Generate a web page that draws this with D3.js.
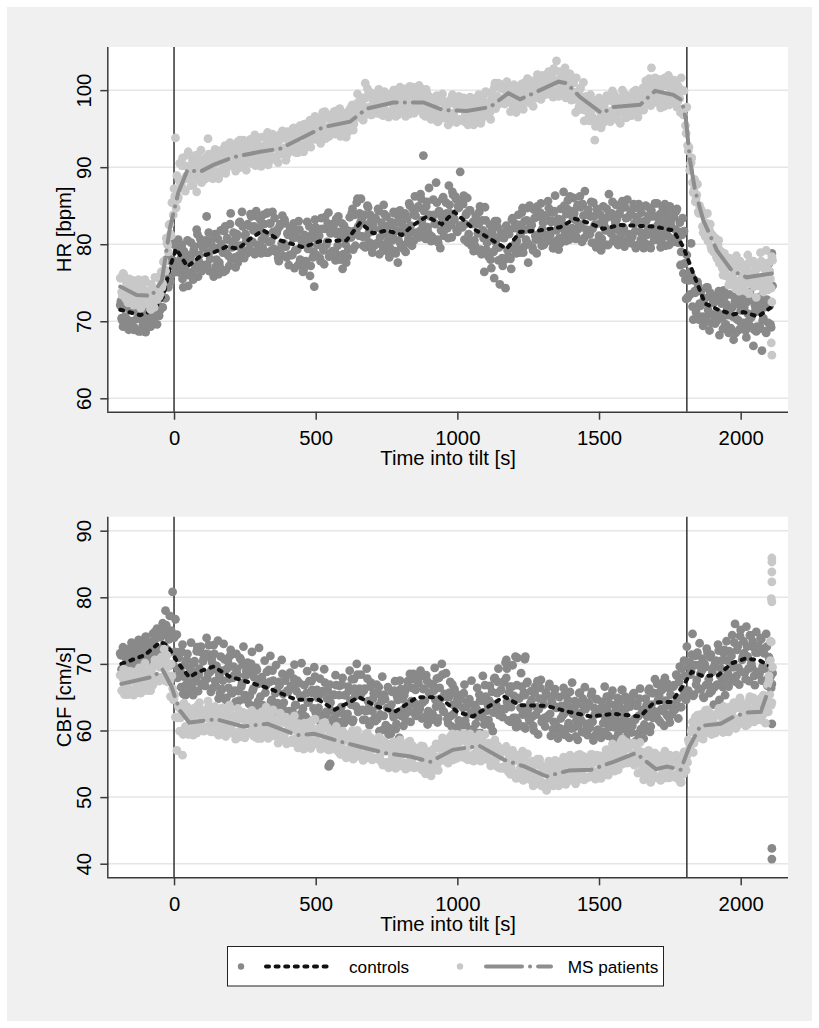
<!DOCTYPE html>
<html><head><meta charset="utf-8">
<script src="https://cdn.jsdelivr.net/npm/d3@7"></script>
<style>
html,body{margin:0;padding:0;background:#fff;}
svg text{font-family:"Liberation Sans",Arial,Helvetica,sans-serif;fill:#000;}
</style></head>
<body>
<svg id="chart" width="819" height="1028"></svg>
<script>
// ---------------- DATA ----------------
const sampleStart = -190;   // s, first sample time (set A)
const sampleStep = 5;       // s between samples
const sampleStartB = -187.5; // s, first sample time (set B, interleaved)
const tiltMarks = [0, 1810];
const xTicks = [0, 500, 1000, 1500, 2000];
const hrTicks = [60, 70, 80, 90, 100];
const cbfTicks = [40, 50, 60, 70, 80, 90];
const seriesNames = ["controls", "MS patients"];

const hrControls = [
72.1,70.4,69.3,71.8,73.0,70.2,68.9,71.5,72.6,70.0,
69.1,71.9,70.3,68.7,72.4,70.8,69.5,71.2,68.6,70.6,
71.7,69.8,72.5,70.4,71.0,73.1,69.6,72.0,71.4,73.6,
71.8,74.9,73.0,76.2,74.4,78.1,76.0,80.2,77.8,79.9,
77.4,80.6,76.3,78.2,75.5,79.1,76.8,77.9,74.6,78.5,
80.2,76.4,79.3,77.1,81.9,75.8,78.6,80.0,76.9,79.7,
77.3,83.6,78.9,76.5,80.4,79.2,75.8,81.3,78.0,80.7,
77.6,81.8,79.5,76.4,82.3,78.8,80.6,77.2,84.0,79.6,
81.5,78.3,80.9,77.6,82.8,79.8,84.2,78.6,81.1,80.4,
82.6,79.4,83.9,80.2,81.8,78.7,84.3,82.0,79.9,83.1,
80.6,83.8,81.2,78.9,84.1,80.3,82.7,79.2,81.6,83.4,
79.0,81.9,77.8,82.6,80.1,78.5,83.2,79.7,81.4,77.3,
82.1,78.6,80.8,76.9,81.7,79.3,83.0,78.0,80.5,76.4,
81.2,77.8,82.9,79.5,75.9,80.8,78.3,74.5,82.2,79.9,
81.9,78.2,83.4,79.6,77.4,82.0,80.3,84.1,78.8,81.5,
79.1,82.7,77.9,81.3,83.6,78.5,80.9,76.8,82.4,80.0,
81.8,79.4,83.5,80.9,84.6,81.7,79.8,85.4,82.3,84.0,
85.9,81.0,83.7,79.6,82.5,84.8,80.2,83.0,78.9,81.9,
83.4,80.1,84.6,78.7,82.0,79.9,85.1,81.3,83.6,80.4,
78.3,82.9,80.5,84.2,79.1,81.8,77.6,83.5,80.0,82.6,
79.4,84.0,81.7,80.2,85.3,82.4,79.8,83.9,86.2,81.5,
84.7,80.9,86.5,83.1,91.5,81.6,84.9,82.2,87.3,83.6,
81.0,85.8,82.7,88.0,80.6,84.3,79.5,83.5,86.1,81.9,
85.4,82.1,87.6,84.0,80.9,86.4,83.2,85.9,81.6,84.7,
89.4,82.4,85.2,80.6,83.8,86.0,81.3,84.4,79.8,82.9,
80.5,83.7,79.2,82.6,84.9,78.7,81.8,76.4,83.1,80.2,
78.4,82.5,76.9,81.2,75.6,80.3,83.0,77.9,74.8,81.5,
77.2,80.8,74.3,82.1,78.5,81.9,76.8,83.4,79.9,82.6,
80.4,83.8,78.9,82.3,84.7,79.7,81.9,83.1,77.6,85.0,
82.4,79.6,84.5,81.1,78.8,83.6,80.7,85.3,82.0,79.9,
83.7,81.2,85.6,80.4,82.9,84.1,79.5,86.3,81.8,83.3,
80.8,84.6,82.5,86.8,81.4,83.9,85.7,80.6,84.3,82.1,
86.0,83.2,81.0,85.1,82.6,84.8,80.3,83.7,86.9,81.9,
84.0,81.3,83.6,80.2,85.4,82.5,79.6,84.2,81.1,83.8,
80.7,84.9,82.3,79.9,83.5,86.5,81.6,84.0,80.4,83.2,
85.1,81.9,83.9,80.6,84.7,82.2,79.7,83.4,85.8,81.3,
83.8,80.1,84.6,82.7,79.5,83.3,85.2,81.6,84.1,80.8,
82.9,85.0,81.2,83.7,79.9,84.4,82.1,80.6,83.6,85.3,
81.4,83.9,80.3,84.7,82.5,79.8,83.2,81.0,84.9,82.3,
80.7,83.5,81.9,84.6,80.2,82.8,79.0,83.4,81.7,75.4,
78.6,73.2,76.4,80.1,71.9,75.3,73.7,70.8,74.6,72.3,
73.9,70.6,72.8,69.9,74.4,71.5,68.8,73.1,70.9,72.4,
69.7,73.3,71.1,68.2,72.9,70.4,74.0,69.5,72.2,70.8,
73.5,69.1,71.8,67.6,72.6,70.3,74.2,68.9,71.4,73.0,
69.8,72.4,67.9,71.0,73.6,69.3,70.9,66.8,72.1,68.7,
71.3,69.0,73.2,66.2,70.4,72.7,68.5,74.1,77.5,69.6,
78.8];
const hrControlsB = [
72.6,70.1,73.4,70.6,72.1,69.2,73.0,69.8,71.6,68.9,
69.1,71.5,70.6,72.8,68.7,71.9,70.0,73.3,69.5,71.1,
71.5,69.3,72.2,70.3,73.5,71.3,73.3,70.7,73.0,71.8,
75.2,73.0,78.0,75.3,77.9,75.1,80.6,77.2,79.9,76.4,
76.9,79.3,77.6,79.9,74.4,78.4,76.2,80.5,76.0,78.1,
78.7,75.4,79.7,76.9,81.3,77.8,80.7,76.5,79.5,76.9,
80.5,77.3,81.5,78.1,79.9,76.3,81.1,77.1,79.5,76.1,
77.0,80.0,78.9,81.7,76.6,80.8,78.5,82.6,78.0,79.9,
80.3,77.0,81.3,78.5,82.9,79.4,82.3,78.2,81.3,78.8,
82.4,79.3,83.6,80.3,82.3,79.0,83.6,79.7,82.1,78.8,
79.6,82.6,81.3,84.0,78.9,82.7,80.4,84.2,79.4,81.2,
81.5,78.2,82.3,79.5,83.7,80.1,82.7,78.3,81.2,78.6,
81.8,78.6,82.7,79.2,80.9,77.3,81.9,77.9,80.1,76.7,
77.5,80.6,79.4,82.3,77.2,81.3,79.0,83.2,78.6,80.5,
81.1,77.8,82.0,79.2,83.5,79.9,82.7,78.4,81.4,78.8,
82.3,79.1,83.3,79.8,81.6,78.0,82.7,78.7,81.0,77.6,
78.4,81.7,80.9,84.1,79.3,83.8,81.7,85.9,81.1,82.8,
83.3,79.8,83.8,80.9,85.0,81.5,83.8,79.5,82.5,79.8,
83.3,80.1,84.3,80.9,82.8,79.2,83.9,79.9,82.3,78.9,
79.5,82.5,81.2,84.0,78.8,82.9,80.5,84.4,79.6,81.5,
82.1,79.0,83.3,80.7,85.0,81.6,84.6,80.5,83.7,81.3,
84.9,81.7,85.9,82.5,84.3,80.7,85.5,81.5,83.8,80.4,
80.8,83.8,82.6,85.4,80.2,84.2,81.8,85.9,81.1,83.0,
84.0,80.8,85.1,82.5,86.8,83.4,86.2,81.8,85.0,82.4,
85.6,82.2,86.3,82.6,84.0,80.2,84.4,80.3,82.6,79.1,
79.8,82.7,81.4,84.2,79.3,83.1,80.8,84.8,79.3,81.1,
81.4,78.0,81.9,79.0,83.0,79.5,82.2,79.6,80.9,78.2,
81.2,78.0,82.4,79.2,81.3,78.1,83.2,79.5,82.1,78.8,
79.5,82.5,81.3,84.1,78.9,83.0,80.6,84.7,80.0,81.9,
82.5,79.2,83.4,80.6,84.9,81.3,84.1,79.8,82.8,80.2,
83.7,80.5,84.7,81.2,83.0,79.5,84.3,80.4,82.7,79.3,
80.1,83.2,82.1,85.0,80.4,84.6,82.0,86.2,81.4,83.4,
84.0,80.7,84.8,82.0,86.2,82.5,85.2,80.8,83.8,81.2,
84.5,81.3,85.5,82.0,83.6,80.0,84.6,80.5,82.7,79.2,
79.9,82.9,81.8,84.6,79.9,84.0,81.4,85.5,80.8,82.7,
83.2,79.9,84.1,81.3,85.6,82.0,84.8,80.5,83.5,80.9,
84.2,81.0,85.2,81.7,83.5,79.9,84.6,80.6,82.9,79.5,
80.1,83.1,81.9,84.7,79.5,83.6,81.2,85.3,80.6,82.5,
82.9,79.6,83.8,81.0,85.2,81.6,84.2,79.9,82.9,80.3,
83.6,80.3,84.3,80.3,81.6,77.3,81.2,76.2,77.5,72.9,
73.0,75.3,73.5,75.8,70.2,73.9,71.2,75.1,70.2,72.0,
72.3,69.4,73.0,70.5,74.4,71.1,73.7,69.8,72.4,70.1,
73.0,70.1,73.9,70.8,72.3,69.0,73.1,69.6,71.6,68.5,
69.0,71.7,70.6,73.2,68.5,72.3,70.1,73.9,69.7,71.4,
71.8,68.8,72.5,70.0,73.8,70.5,72.9,68.9,71.6,69.3,
72.2,69.3,73.1,70.1,71.8,68.7,72.8,69.8,72.0,69.2,
74.6];

const hrPatients = [
75.6,73.8,76.2,74.1,72.9,75.0,73.4,74.7,72.6,75.3,
73.0,74.6,72.4,75.4,73.7,71.9,74.2,73.1,75.1,72.7,
73.9,72.3,74.8,73.2,71.8,74.0,72.8,75.6,73.5,76.4,
74.9,77.8,76.5,80.2,79.0,82.6,81.1,85.4,87.2,93.8,
88.9,86.1,90.5,87.8,91.2,88.4,86.9,90.1,92.0,88.7,
87.6,90.9,89.2,91.5,86.8,89.9,88.4,92.2,90.3,88.9,
91.2,89.0,93.7,90.4,88.6,91.6,89.7,92.3,90.8,88.9,
92.1,89.5,91.4,90.0,92.8,89.8,91.7,93.0,90.4,92.2,
90.3,92.7,91.0,93.3,89.9,92.1,90.8,93.5,91.5,89.6,
92.9,91.1,93.6,90.5,92.3,94.2,91.4,93.0,90.8,92.6,
93.9,91.5,92.8,90.7,94.5,92.1,93.4,91.0,92.7,94.0,
91.3,93.2,92.0,94.3,91.8,93.8,92.5,90.9,94.6,92.9,
94.1,92.4,95.0,93.3,91.9,94.6,93.0,95.4,92.7,94.3,
95.6,93.2,94.9,92.8,96.1,94.3,93.6,95.8,94.0,96.4,
93.9,96.0,94.6,97.1,95.2,93.7,96.6,95.0,94.2,96.8,
95.5,97.2,94.3,96.4,95.9,97.6,94.8,96.1,95.3,97.0,
96.3,94.9,97.5,96.0,98.1,95.6,97.3,96.5,98.4,96.9,
97.8,99.0,96.6,100.9,97.1,99.4,97.6,96.8,98.8,97.4,
98.5,97.0,99.3,98.1,96.9,99.7,98.0,97.4,99.1,98.6,
97.2,99.5,98.3,100.0,97.6,98.9,96.8,99.8,98.1,97.5,
99.6,97.9,100.2,98.0,96.9,99.3,98.6,100.4,97.4,99.0,
98.2,100.6,97.5,99.4,96.8,98.9,100.1,97.7,99.2,96.6,
98.4,96.9,99.0,97.3,95.9,98.7,97.0,99.3,96.4,98.1,
96.6,98.5,97.1,95.8,99.0,96.9,98.2,96.2,97.8,99.2,
96.1,98.0,97.5,95.9,98.8,96.7,97.9,99.1,96.3,98.4,
97.0,98.9,96.5,99.4,97.7,96.2,98.6,97.3,99.8,96.8,
98.4,97.1,99.7,98.0,100.3,97.6,99.2,98.5,100.8,98.9,
100.2,98.3,99.9,101.1,98.6,100.4,99.0,98.1,100.7,99.4,
98.2,100.5,99.1,97.9,100.0,98.8,101.0,99.5,98.4,100.6,
99.8,101.2,98.9,100.7,99.4,101.6,100.1,98.8,101.9,100.5,
101.3,99.7,102.2,100.6,101.8,100.0,102.8,101.1,103.8,100.9,
102.4,100.3,101.7,99.9,102.9,101.0,100.2,102.1,99.6,101.4,
100.9,98.8,101.6,99.5,97.9,100.3,98.7,101.0,97.4,99.2,
98.1,96.8,99.4,97.5,96.2,93.5,95.9,97.8,99.0,96.4,
97.6,95.8,98.3,96.7,99.1,97.2,95.9,98.6,97.4,99.4,
96.9,98.8,97.5,95.7,99.0,97.3,98.5,96.4,99.3,97.8,
98.6,96.7,99.2,97.9,100.0,97.0,98.9,99.6,97.4,100.3,
99.1,101.2,98.4,100.4,99.7,102.9,100.0,98.8,101.5,99.6,
100.8,98.6,101.4,99.2,97.9,100.6,99.0,101.9,98.3,100.1,
98.7,101.3,99.6,97.8,100.5,98.9,101.6,97.4,99.9,95.4,
97.8,92.1,89.6,90.6,88.0,87.1,85.5,86.4,84.2,85.0,
84.5,82.3,83.9,81.0,82.7,80.4,81.8,79.7,81.2,79.0,
80.8,78.3,79.9,77.5,79.1,76.9,78.6,76.3,77.9,75.8,
78.2,75.6,77.4,74.8,76.9,78.5,75.2,73.9,77.1,75.7,
74.4,77.3,75.0,78.6,73.6,76.2,74.9,77.8,75.3,73.1,
77.0,74.6,78.9,75.4,73.8,76.8,79.2,74.1,77.6,75.5,
78.4];
const hrPatientsB = [
75.6,73.4,76.1,73.7,74.9,72.4,75.5,72.8,74.3,72.1,
72.2,74.2,73.4,75.1,71.7,74.3,72.7,75.4,72.3,73.6,
73.8,71.5,74.3,72.6,75.7,73.6,75.7,73.2,75.6,74.4,
77.7,76.7,80.8,79.9,82.5,81.3,85.4,83.8,86.2,84.7,
85.8,88.3,88.0,90.2,87.2,90.2,88.8,91.6,88.5,89.7,
90.0,87.7,90.5,88.7,91.6,89.2,90.9,88.0,90.0,88.4,
90.8,88.7,91.7,89.5,90.8,88.5,91.7,89.1,90.6,88.5,
89.1,91.2,90.6,92.5,89.2,92.0,90.5,93.2,90.2,91.5,
91.8,89.5,92.3,90.5,93.5,91.2,93.0,90.2,92.2,90.6,
92.9,90.7,93.6,91.3,92.5,90.2,93.4,90.8,92.3,90.1,
90.6,92.6,91.9,93.7,90.3,93.1,91.5,94.3,91.2,92.5,
92.9,90.6,93.5,91.7,94.7,92.4,94.3,91.5,93.5,92.0,
94.3,92.2,95.1,92.9,94.2,91.9,95.1,92.6,94.1,92.0,
92.6,94.7,94.0,95.9,92.6,95.4,93.9,96.6,93.6,94.9,
95.4,93.1,96.0,94.2,97.2,94.9,96.8,94.0,96.0,94.4,
96.6,94.4,97.3,95.0,96.3,94.0,97.1,94.6,96.1,93.9,
94.5,96.6,96.0,98.0,94.8,97.8,96.5,99.5,96.5,97.9,
98.3,96.1,98.9,97.2,100.2,97.8,99.7,96.8,98.9,97.3,
99.5,97.3,100.1,97.8,99.1,96.7,99.8,97.2,98.7,96.5,
97.0,99.0,98.2,100.0,96.6,99.3,97.7,100.4,97.3,98.6,
98.9,96.6,99.4,97.6,100.5,98.1,99.9,97.0,99.0,97.4,
99.6,97.4,100.2,97.9,99.0,96.6,99.6,97.0,98.5,96.2,
96.5,98.4,97.6,99.3,95.9,98.5,96.8,99.5,96.4,97.6,
97.8,95.5,98.3,96.5,99.4,97.0,98.7,95.8,97.8,96.2,
98.4,96.2,99.0,96.7,97.9,95.5,98.6,96.1,97.7,95.5,
96.0,98.0,97.3,99.1,95.7,98.4,96.8,99.5,96.7,98.0,
98.4,96.2,99.2,97.7,100.9,98.8,100.9,98.2,100.2,98.4,
100.4,98.2,100.9,98.5,99.6,97.2,100.2,97.6,99.2,97.1,
97.7,99.8,99.0,100.8,97.5,100.3,98.7,101.5,98.4,99.7,
100.1,97.9,100.8,99.0,102.0,99.8,101.6,99.9,100.8,99.4,
101.6,99.5,102.4,100.2,101.4,99.1,102.4,99.8,101.3,99.2,
99.7,101.6,100.8,102.5,99.0,101.5,99.7,102.1,98.7,99.7,
99.7,97.1,99.6,97.5,100.1,97.5,99.1,96.0,97.8,96.1,
98.2,96.0,98.8,96.5,97.7,95.3,98.4,95.8,97.3,95.1,
95.7,97.9,97.3,99.3,96.0,98.8,97.2,99.9,96.8,98.1,
98.4,96.1,98.9,97.1,100.0,97.6,99.4,96.5,98.5,96.9,
99.2,97.0,99.8,97.6,98.8,96.5,99.8,97.5,99.3,97.4,
98.2,100.4,99.7,101.5,98.0,100.6,98.9,101.6,98.4,99.7,
100.0,97.7,100.5,98.7,101.6,99.2,101.0,98.1,100.1,98.5,
100.6,98.3,101.0,98.5,99.6,97.1,100.0,96.8,97.6,94.4,
92.8,92.6,90.4,91.2,86.7,88.4,85.9,87.8,84.0,84.6,
84.3,81.5,83.8,81.6,84.0,81.2,82.6,79.3,80.9,78.9,
80.7,78.1,80.5,77.8,78.7,76.0,78.8,75.9,77.1,74.7,
75.1,77.0,76.0,77.7,74.2,76.8,75.1,77.8,74.7,75.9,
76.2,73.9,76.7,75.0,77.9,75.5,77.4,74.5,76.6,75.0,
77.2,75.0,77.8,75.5,76.8,74.4,77.5,75.0,76.5,74.3,
77.9];

const cbfControls = [
71.6,69.2,72.5,68.7,70.9,72.0,69.5,71.3,73.2,70.1,
72.3,69.8,71.1,73.6,70.4,72.8,69.9,71.7,74.1,70.8,
73.0,70.9,72.4,74.5,71.6,73.8,75.3,72.2,74.6,71.9,
76.1,72.8,78.0,74.3,71.6,77.2,75.0,80.8,73.9,76.7,
74.4,69.2,71.8,66.5,72.9,68.1,65.3,70.6,67.2,69.4,
73.2,66.4,70.1,67.6,71.9,65.9,69.3,72.6,67.0,70.8,
66.7,73.9,68.5,71.4,65.8,70.2,72.8,67.4,69.7,73.5,
68.3,71.1,66.2,73.0,69.0,64.9,70.4,67.8,72.1,65.6,
69.6,66.0,71.5,68.3,64.5,70.7,67.1,72.6,65.3,68.9,
70.2,64.0,68.6,71.8,66.3,63.7,69.4,67.0,72.4,65.1,
68.0,63.5,70.5,66.8,62.9,69.1,71.2,64.6,67.5,63.2,
69.8,64.1,67.3,62.4,70.6,65.5,63.0,68.2,66.0,61.8,
68.7,62.6,66.4,69.9,63.8,67.5,61.4,65.2,70.1,63.3,
66.8,62.0,68.9,64.3,60.9,67.4,65.6,69.5,62.7,66.1,
63.4,67.8,61.5,65.9,69.2,62.3,64.8,60.4,66.9,63.0,
61.7,65.4,68.3,62.6,60.2,66.7,63.5,67.9,61.1,65.3,
62.0,66.6,69.0,63.9,61.3,67.7,65.2,70.0,62.8,66.3,
68.4,63.1,66.0,61.6,69.3,64.4,60.8,67.2,62.9,65.6,
61.4,66.9,63.7,59.9,65.3,68.1,62.2,64.7,60.6,66.5,
63.3,59.5,65.8,62.0,67.4,61.0,64.6,58.9,66.2,63.0,
60.7,65.9,62.6,67.4,63.8,61.3,66.4,68.5,64.1,62.2,
67.6,63.0,69.0,61.8,66.2,64.5,68.3,60.9,65.7,67.0,
62.4,66.8,69.4,63.6,61.2,67.9,64.8,70.0,62.9,65.5,
68.6,61.7,65.0,67.3,60.6,63.9,66.2,59.8,64.7,61.5,
65.3,59.4,63.4,66.9,60.8,64.2,58.7,62.5,67.5,60.2,
63.8,61.0,66.4,59.6,64.5,62.3,68.2,60.9,65.1,63.0,
61.6,66.7,64.0,59.9,67.8,62.8,65.6,69.3,63.1,66.1,
62.0,67.4,70.2,64.3,61.5,66.6,63.5,69.8,65.2,61.9,
66.8,60.7,64.9,68.6,62.4,65.7,60.3,67.1,63.2,61.4,
65.9,62.1,60.0,66.6,63.5,59.4,64.8,67.6,61.7,63.9,
60.6,65.3,62.2,67.0,59.2,64.1,61.3,66.2,63.4,58.8,
65.0,61.8,59.5,66.4,62.7,60.3,64.6,58.9,63.3,67.2,
60.4,64.4,61.5,58.6,65.6,62.6,59.8,63.7,66.5,61.0,
59.3,63.9,61.2,65.8,58.5,62.4,64.7,60.1,63.2,59.6,
64.3,61.1,66.6,59.4,62.9,60.5,65.2,62.0,58.7,63.8,
61.6,64.9,59.9,63.4,66.1,60.8,62.6,58.9,64.2,61.3,
63.6,59.7,65.4,61.7,58.4,64.0,62.2,66.3,60.2,63.1,
60.9,64.8,62.1,66.0,59.8,63.9,61.9,65.6,62.8,67.0,
61.6,65.8,63.2,67.2,60.7,64.5,62.3,66.4,61.2,64.0,
62.9,66.8,64.1,68.2,61.8,69.6,63.5,66.2,70.5,64.7,
72.6,66.0,70.3,68.9,74.5,65.4,71.2,67.6,69.8,73.1,
66.2,70.8,64.9,69.5,72.3,67.0,65.6,71.4,68.8,63.9,
70.1,66.8,72.9,64.6,69.3,67.7,71.6,65.3,73.4,68.6,
71.9,67.9,74.3,69.5,76.0,68.2,72.7,66.9,75.1,70.6,
73.4,68.7,75.6,71.1,67.4,74.2,69.5,72.5,66.8,74.8,
71.7,68.4,73.9,67.5,72.2,69.3,74.5,66.7,71.0,68.1,
67.0];
const cbfControlsB = [
71.3,69.1,72.2,69.9,71.3,68.8,72.3,69.6,71.3,69.1,
69.6,71.8,71.0,73.1,69.6,72.4,70.8,73.8,70.5,71.8,
72.3,70.1,73.3,71.6,74.8,72.4,74.6,71.7,74.0,72.2,
75.0,71.7,75.8,72.1,73.7,69.8,74.2,69.9,71.8,68.0,
67.9,70.9,69.0,71.8,65.5,69.9,66.9,71.5,66.0,68.4,
69.0,65.3,70.4,67.4,72.5,68.4,71.8,66.8,70.4,67.5,
71.5,67.8,72.8,68.8,70.8,66.4,71.5,66.7,69.1,64.8,
65.6,69.0,67.5,70.7,64.6,69.3,66.4,71.2,65.6,67.9,
68.3,64.3,69.2,65.9,70.9,66.6,69.9,64.7,68.2,65.2,
69.1,65.2,70.0,66.0,68.0,63.7,69.1,64.4,67.1,63.0,
63.8,67.2,65.7,68.8,62.7,67.3,64.4,69.0,63.4,65.6,
66.0,62.0,66.8,63.5,68.5,64.2,67.5,62.3,65.8,62.9,
66.7,62.9,67.8,63.8,65.9,61.7,67.1,62.5,65.2,61.2,
62.1,65.6,64.2,67.4,61.4,66.1,63.3,68.1,62.6,64.9,
65.3,61.2,65.8,62.4,67.2,62.8,66.0,60.8,64.2,61.3,
65.3,61.7,66.8,63.0,65.3,61.3,66.9,62.5,65.3,61.5,
62.5,66.0,64.5,67.7,61.6,66.3,63.6,68.4,63.0,65.3,
65.7,61.6,66.3,62.9,67.8,63.4,66.6,61.4,64.8,61.8,
65.6,61.7,66.5,62.4,64.4,60.1,65.4,60.8,63.4,59.4,
60.3,63.9,62.6,66.0,60.2,65.1,62.5,67.5,62.2,64.7,
65.3,61.5,66.5,63.4,68.5,64.4,67.7,62.6,66.1,63.2,
67.1,63.3,68.2,64.2,66.3,62.1,67.5,62.9,65.6,61.6,
62.5,66.0,64.6,67.8,61.8,66.4,63.6,68.4,62.8,65.1,
65.3,61.1,65.7,62.2,66.9,62.5,65.6,60.4,63.8,60.8,
64.7,60.8,65.6,61.5,63.6,59.3,64.7,60.0,62.7,58.7,
59.7,63.3,62.1,65.4,59.6,64.5,61.8,66.8,61.4,63.9,
64.5,60.7,65.8,62.7,67.9,63.8,67.3,62.3,66.0,63.2,
67.2,63.2,67.9,63.8,65.7,61.3,66.6,61.9,64.5,60.5,
61.3,64.8,63.4,66.6,60.6,65.3,62.5,67.3,61.8,64.1,
64.6,60.7,65.6,62.4,67.4,63.2,66.4,61.3,64.8,61.9,
65.7,61.8,66.6,62.5,64.5,60.2,65.5,60.9,63.5,59.5,
60.3,63.7,62.3,65.4,59.3,64.0,61.1,65.8,60.3,62.5,
63.0,59.1,63.9,60.7,65.7,61.5,64.8,59.7,63.2,60.3,
64.2,60.4,65.3,61.3,63.4,59.3,64.7,60.1,62.9,58.9,
59.8,63.3,61.9,65.1,59.2,64.0,61.2,66.0,60.5,62.8,
63.3,59.4,64.3,61.1,66.1,61.9,65.1,60.0,63.5,60.6,
64.5,60.7,65.6,61.6,63.7,59.5,64.8,60.2,62.8,58.8,
60.0,63.8,62.8,66.3,60.6,65.6,62.9,67.7,62.2,64.5,
65.1,61.2,66.1,62.9,67.9,63.7,67.0,61.9,65.4,62.5,
66.6,63.1,68.4,64.8,67.3,63.5,69.3,65.1,68.2,64.6,
65.8,69.6,68.4,71.4,65.2,69.8,66.9,71.7,66.2,68.5,
69.0,65.1,70.0,66.8,71.8,67.7,71.0,65.9,69.4,66.5,
70.5,66.9,72.0,68.2,70.5,66.5,72.1,67.7,70.5,66.6,
67.6,71.2,69.9,73.2,67.3,72.1,69.4,74.2,68.8,71.1,
71.6,67.7,72.6,69.3,74.3,70.1,73.4,68.2,71.7,68.8,
72.7,68.8,73.7,69.6,71.6,67.3,72.6,67.9,70.5,66.4,
68.6];

const cbfPatients = [
68.3,66.0,67.8,65.4,69.0,66.6,68.1,65.9,67.5,68.8,
66.2,68.6,67.0,65.7,69.2,67.9,66.4,68.9,67.2,66.0,
69.3,67.1,68.5,66.8,69.8,68.2,70.4,67.6,69.5,71.0,
70.6,72.2,68.4,71.3,69.6,67.4,70.0,66.3,64.8,62.0,
57.0,63.7,59.9,62.4,56.3,64.1,60.6,62.9,59.4,61.8,
62.9,60.2,63.3,61.0,59.6,62.4,64.2,60.7,62.0,59.9,
63.0,60.5,64.4,61.9,59.8,62.7,60.9,63.6,61.3,59.5,
62.6,60.0,63.4,61.5,59.3,62.9,60.6,63.8,61.0,59.9,
62.2,59.6,61.4,63.3,59.0,61.8,60.3,62.7,58.9,61.1,
62.5,59.7,61.6,63.0,59.2,60.9,62.3,58.8,61.8,60.2,
62.8,59.6,61.3,63.5,60.1,62.0,59.1,61.7,63.1,60.4,
59.3,61.8,60.0,62.6,58.7,61.2,59.5,62.0,58.4,60.8,
61.5,58.6,60.4,62.2,58.1,59.9,61.0,57.8,60.6,58.9,
61.1,58.3,60.0,57.6,60.8,59.0,61.6,57.9,59.6,58.4,
60.3,57.8,59.9,61.1,57.4,58.9,60.5,57.1,59.5,58.0,
59.8,57.3,60.2,58.1,56.8,59.4,57.6,59.9,56.5,58.6,
57.0,59.3,56.9,58.7,60.0,56.4,58.2,56.1,59.1,57.4,
58.8,56.2,57.8,59.4,55.9,58.0,56.5,58.9,55.6,57.3,
58.3,55.8,57.5,59.0,55.4,57.0,58.4,55.1,56.9,58.0,
55.3,57.6,56.1,58.3,54.9,57.0,55.6,58.0,54.7,56.8,
57.7,55.1,56.6,58.2,54.5,56.9,55.2,57.5,54.6,56.3,
57.3,54.7,56.2,54.1,57.6,55.5,53.9,56.8,54.4,56.0,
54.9,57.2,55.6,58.0,55.0,57.4,56.1,58.3,55.8,57.9,
55.9,58.5,56.6,59.1,57.0,55.6,58.7,57.5,59.4,56.3,
58.4,56.0,59.2,57.1,55.8,58.9,57.6,59.5,56.2,58.1,
56.5,59.0,57.4,55.9,58.6,56.8,59.2,55.7,57.9,56.3,
58.1,55.4,57.3,54.9,56.7,58.0,54.6,56.2,57.1,54.3,
56.9,54.3,57.2,55.0,53.8,56.4,54.5,57.0,53.6,55.8,
56.3,53.4,55.6,54.1,56.9,53.0,55.3,53.9,52.8,55.1,
52.6,55.4,53.5,51.9,54.8,53.0,55.7,52.4,54.2,51.6,
54.5,51.0,53.6,55.2,52.3,54.0,52.7,55.5,53.1,52.0,
55.3,52.6,54.4,56.0,52.9,54.9,53.3,55.8,52.5,54.6,
55.6,53.1,54.8,56.3,52.7,55.0,53.6,56.1,52.9,54.4,
55.9,53.0,54.7,56.4,53.4,55.2,52.8,55.7,54.0,56.2,
53.5,55.9,54.3,57.1,53.8,56.0,54.6,57.3,55.1,53.9,
57.2,54.6,56.5,58.0,54.9,56.8,55.3,58.3,55.9,57.5,
55.2,58.1,56.4,54.8,57.9,56.9,55.6,58.2,54.9,56.7,
53.9,56.5,54.6,57.0,53.4,55.8,54.2,56.6,52.9,55.1,
56.2,53.1,55.4,53.8,56.5,52.9,55.0,54.1,56.3,53.5,
55.6,53.0,54.8,56.1,52.7,55.3,52.2,54.4,56.8,55.0,
56.2,58.6,57.4,59.8,61.3,58.1,62.0,59.6,61.5,60.2,
62.4,59.3,61.8,63.0,59.7,61.2,62.7,59.5,60.6,62.1,
59.6,62.3,60.8,63.2,60.1,61.9,63.6,59.9,62.5,61.0,
63.5,60.6,62.8,64.1,61.2,63.4,60.8,64.4,62.0,63.9,
61.4,64.0,62.5,60.9,64.6,63.1,61.7,64.9,62.3,63.8,
62.0,64.5,61.6,63.9,65.3,62.7,64.8,66.9,68.2,73.4,
85.9];
const cbfPatientsB = [
68.4,66.0,69.2,66.7,68.0,65.4,68.9,66.0,67.8,65.3,
65.9,68.1,67.3,69.4,65.6,68.7,67.0,70.1,66.5,68.0,
68.4,66.0,69.3,67.3,70.6,68.1,70.4,67.4,69.7,68.0,
70.4,67.5,70.3,67.3,68.2,65.1,68.2,64.6,65.4,62.0,
61.9,63.4,61.9,63.6,59.4,62.3,60.4,63.5,59.9,61.5,
61.8,59.3,62.6,60.5,63.7,61.1,63.2,60.0,62.2,60.4,
63.0,60.5,63.7,61.1,62.5,59.8,63.3,60.2,62.0,59.3,
59.9,62.0,61.0,63.0,59.1,62.1,60.2,63.2,59.6,61.0,
61.3,58.7,61.9,59.8,62.9,60.2,62.3,59.2,61.4,59.5,
62.2,59.7,62.9,60.3,61.6,59.0,62.5,59.5,61.3,58.8,
59.4,61.6,60.7,62.7,58.8,61.8,59.9,62.9,59.2,60.6,
60.8,58.1,61.2,59.0,62.1,59.3,61.3,58.0,60.1,58.2,
60.7,58.2,61.4,58.8,60.1,57.4,61.0,58.0,59.8,57.2,
57.8,60.0,59.1,61.2,57.3,60.4,58.6,61.7,58.1,59.6,
59.8,57.2,60.3,58.1,61.2,58.4,60.4,57.1,59.2,57.2,
60.0,57.4,60.6,57.9,59.1,56.4,59.8,56.8,58.5,55.9,
56.4,58.6,57.6,59.7,55.7,58.8,56.9,60.0,56.3,57.8,
58.0,55.5,58.6,56.5,59.6,56.9,58.9,55.7,57.8,55.9,
58.4,55.8,59.0,56.3,57.6,54.8,58.3,55.2,57.0,54.4,
54.9,57.1,56.1,58.2,54.3,57.3,55.5,58.6,54.9,56.4,
56.7,54.2,57.3,55.2,58.4,55.6,57.7,54.4,56.5,54.5,
57.1,54.5,57.7,55.0,56.2,53.5,56.9,53.9,55.7,53.2,
53.9,56.2,55.5,57.8,54.0,57.3,55.7,58.9,55.5,57.1,
57.5,55.1,58.3,56.2,59.5,56.8,58.9,55.8,58.0,56.1,
58.7,56.3,59.5,56.9,58.3,55.6,59.1,56.2,58.0,55.4,
56.1,58.3,57.3,59.4,55.4,58.4,56.5,59.4,55.7,57.1,
57.3,54.7,57.7,55.5,58.6,55.7,57.7,54.4,56.5,54.5,
57.0,54.4,57.6,54.9,56.1,53.4,56.8,53.7,55.5,52.8,
53.3,55.4,54.4,56.5,52.5,55.5,53.6,56.5,52.7,54.1,
54.3,51.7,54.8,52.6,55.7,52.9,55.0,51.7,53.9,51.9,
54.5,52.1,55.4,52.9,54.3,51.7,55.3,52.3,54.2,51.7,
52.3,54.5,53.7,55.8,51.9,55.0,53.2,56.3,52.7,54.2,
54.5,52.0,55.2,53.2,56.4,53.7,55.8,52.6,54.8,52.9,
55.5,53.1,56.4,53.9,55.3,52.7,56.3,53.4,55.3,52.8,
53.4,55.7,54.9,57.1,53.3,56.5,54.8,58.0,54.5,56.1,
56.5,54.1,57.4,55.4,58.7,56.0,58.2,55.1,57.3,55.3,
57.8,55.1,58.1,55.3,56.5,53.6,56.9,53.8,55.4,52.6,
53.1,55.2,54.2,56.2,52.2,55.2,53.4,56.6,53.0,54.6,
55.0,52.5,55.8,53.7,56.9,54.1,56.2,52.9,55.1,53.1,
55.7,53.1,56.3,53.6,54.9,52.2,55.8,53.4,55.9,54.0,
55.2,58.2,57.7,60.2,56.7,60.2,58.8,62.3,59.0,60.8,
61.2,58.7,61.9,59.9,63.1,60.4,62.5,59.4,61.6,59.7,
62.4,60.0,63.3,60.8,62.3,59.7,63.3,60.4,62.3,59.8,
60.5,62.8,62.0,64.2,60.3,63.5,61.7,64.9,61.3,62.9,
63.2,60.7,63.9,61.8,65.1,62.4,64.5,61.3,63.5,61.6,
64.2,61.7,64.9,62.3,63.7,61.1,65.1,62.8,65.4,63.8,
69.5];

// extra observations stacked at the same time as a sample: [time, value]
const hrControlsExtra = [];
const hrPatientsExtra = [[2108, 67.2], [2110, 65.6], [2110, 72.5]];
const cbfControlsExtra = [[546, 54.6], [551, 55.0], [1173, 70.6], [1175, 69.3], [1205, 71.1], [1212, 70.9],
  [1240, 71.1], [1238, 70.7], [2110, 61.0], [2110, 42.3], [2110, 40.7]];
const cbfPatientsExtra = [[2110, 85.3], [2110, 83.8], [2110, 82.3], [2110, 79.3], [2108, 79.8],
  [2105, 70.5], [2108, 73.3], [2100, 67.5], [2110, 64.2]];

// smoothed group means: [time, value]
const hrControlsSmooth = [[-190,71.5],[-120,70.8],[-73,71.4],[-38,73.2],[-14,77.1],[7,79.4],[47,77.1],[92,78.4],
  [138,78.9],[186,79.7],[227,79.4],[268,80.7],[315,81.8],[374,80.5],[456,79.6],[515,80.4],[609,80.5],[657,82.8],
  [703,81.4],[751,81.8],[804,81.2],[845,82.5],[892,83.6],[945,82.6],[989,84.2],[1057,82.0],[1115,80.7],[1174,79.4],
  [1221,81.6],[1292,81.8],[1362,82.2],[1415,83.3],[1468,82.7],[1515,82.0],[1574,82.5],[1692,82.3],[1762,81.8],
  [1798,79.6],[1833,76.2],[1874,72.3],[1927,71.4],[1974,70.9],[2010,71.2],[2062,70.6],[2110,71.9]];
const hrPatientsSmooth = [[-190,74.5],[-132,73.4],[-79,73.3],[-43,75.3],[-14,82.2],[15,86.7],[47,89.6],[92,89.4],
  [139,90.3],[209,91.3],[304,92.0],[374,92.4],[445,93.7],[527,95.2],[621,95.9],[680,97.6],[774,98.4],[880,98.4],
  [951,97.4],[1033,97.3],[1115,97.8],[1180,99.6],[1221,98.8],[1292,100.0],[1357,101.1],[1386,100.9],[1433,99.1],
  [1510,97.0],[1551,97.8],[1645,98.1],[1698,99.9],[1762,99.4],[1792,98.7],[1807,96.1],[1821,90.9],[1839,87.0],
  [1868,83.1],[1916,79.2],[1968,76.6],[2021,75.7],[2074,76.0],[2110,76.2]];
const cbfControlsSmooth = [[-186,70.0],[-104,71.3],[-48,73.3],[-25,72.8],[15,70.1],[54,68.0],[85,68.8],[140,69.6],
  [196,68.1],[275,67.1],[337,66.3],[432,64.6],[511,64.6],[566,63.1],[653,65.0],[716,63.6],[779,62.8],[858,65.0],
  [937,65.0],[1000,62.8],[1055,62.1],[1110,63.6],[1165,65.1],[1220,63.8],[1315,63.7],[1393,62.8],[1472,62.1],
  [1551,62.5],[1646,62.1],[1693,64.2],[1756,64.3],[1795,66.6],[1827,68.8],[1866,68.2],[1921,68.3],[1969,70.1],
  [2016,70.8],[2063,70.6],[2102,69.7]];
const cbfPatientsSmooth = [[-186,67.0],[-72,68.1],[-41,69.2],[-9,66.6],[19,63.1],[54,61.2],[149,61.7],[243,60.6],
  [330,61.0],[432,59.3],[495,59.5],[590,58.3],[653,57.6],[747,56.6],[834,56.1],[905,55.3],[984,57.1],[1078,57.7],
  [1165,55.6],[1236,54.6],[1315,53.1],[1393,54.0],[1472,54.1],[1551,55.3],[1630,56.6],[1701,54.2],[1740,54.6],
  [1788,54.1],[1819,57.6],[1858,60.7],[1929,61.0],[1976,62.1],[2024,62.7],[2071,62.8],[2102,66.6]];

// ---------------- DRAWING ----------------
const svg = d3.select("#chart");
const W = 819, H = 1028;
const C = {
  page: "#f0f0f0", grid: "#e6e6e6", axis: "#3a3a3a", vline: "#333333",
  ctrlPt: "#898989", msPt: "#c8c8c8", ctrlLine: "#111111", msLine: "#8e8e8e"
};
svg.append("rect").attr("x", 0).attr("y", 0).attr("width", W).attr("height", H).attr("fill", "#fff");
svg.append("rect").attr("x", 7).attr("y", 7).attr("width", 805).attr("height", 1014).attr("fill", C.page);

const x = d3.scaleLinear().domain([-232, 2167]).range([108.3, 788]);
const FS = 20.3;

function toPoints(a, b, extra) {
  const pa = a.map((v, i) => [sampleStart + i * sampleStep, v]);
  const pb = b.map((v, i) => [sampleStartB + i * sampleStep, v]);
  return pa.concat(pb, extra);
}

function panel(cfg) {
  const y = d3.scaleLinear().domain(cfg.domain).range([cfg.bottom, cfg.top]);
  const g = svg.append("g");
  const [x0, x1] = x.range();
  g.append("rect").attr("x", x0).attr("y", cfg.top).attr("width", x1 - x0).attr("height", cfg.bottom - cfg.top).attr("fill", "#fff");
  g.selectAll(".grid").data(cfg.ticks).join("line")
    .attr("x1", x0).attr("x2", x1).attr("y1", d => y(d)).attr("y2", d => y(d))
    .attr("stroke", C.grid).attr("stroke-width", 1.5);
  g.selectAll(".vl").data(tiltMarks).join("line")
    .attr("x1", d => x(d)).attr("x2", d => x(d)).attr("y1", cfg.top).attr("y2", cfg.bottom)
    .attr("stroke", C.vline).attr("stroke-width", 1.5);

  const line = d3.line().x(d => x(d[0])).y(d => y(d[1]));
  const ctrlPts = toPoints(cfg.ctrl, cfg.ctrlB, cfg.ctrlExtra);
  const msPts = toPoints(cfg.ms, cfg.msB, cfg.msExtra);
  g.append("g").selectAll("circle").data(ctrlPts).join("circle")
    .attr("cx", d => x(d[0])).attr("cy", d => y(d[1])).attr("r", 4.4).attr("fill", C.ctrlPt);
  g.append("path").datum(cfg.ctrlSmooth).attr("d", line).attr("fill", "none")
    .attr("stroke", C.ctrlLine).attr("stroke-width", 4).attr("stroke-linecap", "round")
    .attr("stroke-dasharray", "3,6.6");
  g.append("g").selectAll("circle").data(msPts).join("circle")
    .attr("cx", d => x(d[0])).attr("cy", d => y(d[1])).attr("r", 4.4).attr("fill", C.msPt);
  g.append("path").datum(cfg.msSmooth).attr("d", line).attr("fill", "none")
    .attr("stroke", C.msLine).attr("stroke-width", 4).attr("stroke-linecap", "round")
    .attr("stroke-dasharray", "29,8,0.1,8");

  const yAxis = d3.axisLeft(y).tickValues(cfg.ticks).tickSize(8).tickFormat(d3.format("d"));
  const ya = g.append("g").attr("transform", `translate(${x0},0)`).call(yAxis);
  ya.select(".domain").attr("d", `M-0.5,${cfg.top}V${cfg.bottom}`).attr("stroke", C.axis).attr("stroke-width", 1.5);
  ya.selectAll(".tick line").attr("stroke", C.axis).attr("stroke-width", 1.5);
  ya.selectAll(".tick text").attr("font-size", FS).attr("x", null).attr("dy", null)
    .attr("transform", "translate(-17.5,0) rotate(-90)").attr("text-anchor", "middle");

  const xAxis = d3.axisBottom(x).tickValues(xTicks).tickSize(8).tickFormat(d3.format("d"));
  const xa = g.append("g").attr("transform", `translate(0,${cfg.bottom})`).call(xAxis);
  xa.select(".domain").attr("d", `M${x0 - 1.2},0.5H${x1}`).attr("stroke", C.axis).attr("stroke-width", 1.5);
  xa.selectAll(".tick line").attr("stroke", C.axis).attr("stroke-width", 1.5);
  xa.selectAll(".tick text").attr("font-size", FS).attr("y", 33.3).attr("dy", null);
  xa.attr("font-family", null); ya.attr("font-family", null);

  g.append("text").attr("x", (x0 + x1) / 2).attr("y", cfg.bottom + 53.6).attr("text-anchor", "middle")
    .attr("font-size", FS).text("Time into tilt [s]");
  g.append("text").attr("transform", `translate(71,${(cfg.top + cfg.bottom) / 2}) rotate(-90)`)
    .attr("text-anchor", "middle").attr("font-size", FS).text(cfg.label);
}

panel({ top: 47, bottom: 411.7, domain: [58.26, 105.6], ticks: hrTicks, label: "HR [bpm]",
  ctrl: hrControls, ctrlB: hrControlsB, ms: hrPatients, msB: hrPatientsB,
  ctrlExtra: hrControlsExtra, msExtra: hrPatientsExtra,
  ctrlSmooth: hrControlsSmooth, msSmooth: hrPatientsSmooth });
panel({ top: 516.7, bottom: 877.3, domain: [37.96, 92.1], ticks: cbfTicks, label: "CBF [cm/s]",
  ctrl: cbfControls, ctrlB: cbfControlsB, ms: cbfPatients, msB: cbfPatientsB,
  ctrlExtra: cbfControlsExtra, msExtra: cbfPatientsExtra,
  ctrlSmooth: cbfControlsSmooth, msSmooth: cbfPatientsSmooth });

// legend
const lg = svg.append("g");
lg.append("rect").attr("x", 227.5).attr("y", 946.5).attr("width", 436).attr("height", 39.5)
  .attr("fill", "#fff").attr("stroke", "#222").attr("stroke-width", 1);
const ly = 966.5;
const legendItems = [
  { name: seriesNames[0], pt: C.ctrlPt, line: C.ctrlLine, dash: "3,6.6", dot: 241, l0: 266, l1: 329, tx: 349 },
  { name: seriesNames[1], pt: C.msPt, line: C.msLine, dash: "36,8,0.1,8", dot: 460, l0: 486, l1: 551, tx: 567.7 }
];
legendItems.forEach(it => {
  lg.append("circle").attr("cx", it.dot).attr("cy", ly).attr("r", 3.2).attr("fill", it.pt);
  lg.append("line").attr("x1", it.l0).attr("x2", it.l1).attr("y1", ly).attr("y2", ly)
    .attr("stroke", it.line).attr("stroke-width", 4).attr("stroke-linecap", "round").attr("stroke-dasharray", it.dash);
  lg.append("text").attr("x", it.tx).attr("y", 973.3).attr("font-size", 17.2).text(it.name);
});
</script>
</body></html>
